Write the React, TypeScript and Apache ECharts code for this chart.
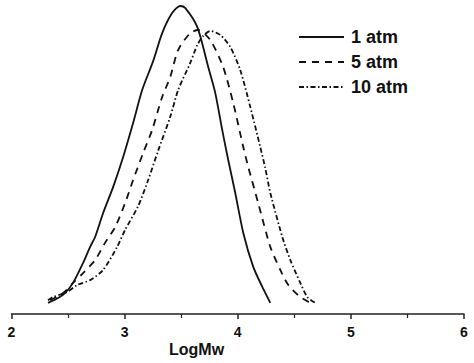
import React, { useEffect, useRef } from "react";
import * as echarts from "echarts";

const seriesNames = ["1 atm", "5 atm", "10 atm"];

const x1 = [2.323, 2.412, 2.473, 2.544, 2.633, 2.695, 2.739, 2.81, 2.898, 2.987, 3.075, 3.155, 3.252, 3.332, 3.42, 3.491, 3.535, 3.642, 3.739, 3.801, 3.863, 3.916, 3.978, 4.049, 4.137, 4.217, 4.288];
const y1 = [3.6, 5.2, 6.8, 10.1, 16.6, 21.8, 25.0, 32.8, 41.2, 51.0, 62.0, 72.7, 82.1, 91.2, 97.7, 100, 99.4, 93.2, 80.2, 71.8, 59.7, 50.0, 39.3, 26.3, 15.3, 8.8, 3.6];

const x5 = [2.341, 2.456, 2.544, 2.633, 2.739, 2.827, 2.916, 3.004, 3.075, 3.164, 3.243, 3.332, 3.403, 3.473, 3.58, 3.65, 3.756, 3.871, 3.96, 4.049, 4.093, 4.181, 4.288, 4.376, 4.447, 4.553, 4.642];
const y5 = [4.5, 6.8, 10.1, 13.3, 17.5, 23.1, 28.2, 36.0, 43.5, 52.3, 59.7, 70.5, 76.9, 85.7, 91.2, 92.2, 89.0, 80.2, 68.5, 54.2, 47.7, 36.0, 21.8, 14.3, 9.4, 5.5, 3.6];

const x10 = [2.323, 2.367, 2.491, 2.58, 2.695, 2.81, 2.934, 3.004, 3.119, 3.208, 3.296, 3.403, 3.473, 3.58, 3.642, 3.695, 3.757, 3.845, 3.934, 4.022, 4.111, 4.199, 4.243, 4.288, 4.394, 4.465, 4.553, 4.615, 4.686];
const y10 = [4.5, 5.5, 7.1, 9.4, 11.0, 14.3, 21.8, 27.3, 35.0, 43.5, 53.0, 64.0, 72.7, 81.5, 87.3, 90.3, 91.9, 90.6, 86.7, 79.2, 67.2, 54.2, 47.4, 39.3, 25.0, 17.5, 10.1, 5.5, 3.6];

const xTicks = [2, 3, 4, 5, 6];
const xName = "LogMw";

const pairs = (xs: number[], ys: number[]) => xs.map((x, i) => [x, ys[i]]);

export default function App() {
  const ref = useRef<HTMLDivElement>(null);
  useEffect(() => {
    if (!ref.current) return;
    const chart = echarts.init(ref.current, null, { renderer: "svg" });
    const font = "Liberation Sans, Arial, sans-serif";
    const mk = (name: string, data: number[][], type: any) => ({
      name,
      type: "line",
      data,
      symbol: "none",
      smooth: 0.25,
      lineStyle: { color: "#111", width: 1.8, type },
      itemStyle: { color: "#111" },
    });
    chart.setOption({
      animation: false,
      backgroundColor: "#fff",
      grid: { left: 11.5, right: 10, top: 6, bottom: 49 },
      legend: {
        orient: "vertical",
        left: 298,
        top: 28,
        padding: 0,
        itemWidth: 45,
        itemHeight: 14,
        itemGap: 7,
        data: seriesNames,
        itemStyle: { opacity: 0 },
        textStyle: {
          fontFamily: font,
          fontWeight: "bold",
          fontSize: 18,
          color: "#111",
          padding: [0, 0, 0, 2],
        },
      },
      xAxis: {
        type: "value",
        min: xTicks[0],
        max: xTicks[xTicks.length - 1],
        interval: 1,
        axisLine: { lineStyle: { color: "#222", width: 1.5 } },
        axisTick: { show: true, length: 5, lineStyle: { color: "#222", width: 1.5 } },
        minorTick: { show: true, splitNumber: 2, length: 4, lineStyle: { color: "#222", width: 1.2 } },
        splitLine: { show: false },
        axisLabel: { fontFamily: font, fontWeight: "bold", fontSize: 14, color: "#111", margin: 11 },
      },
      yAxis: {
        type: "value",
        min: 0,
        max: 100,
        show: false,
      },
      graphic: [
        {
          type: "text",
          left: 169,
          top: 341,
          style: { text: xName, font: `bold 16px ${font}`, fill: "#111" },
        },
      ],
      series: [
        mk(seriesNames[0], pairs(x1, y1), "solid"),
        mk(seriesNames[1], pairs(x5, y5), [7, 6]),
        mk(seriesNames[2], pairs(x10, y10), [5, 2.5, 1.5, 2.5]),
      ],
    });
    return () => chart.dispose();
  }, []);
  return (
    <div
      ref={ref}
      style={{ position: "absolute", left: 0, top: 0, width: 474, height: 363 }}
    />
  );
}
